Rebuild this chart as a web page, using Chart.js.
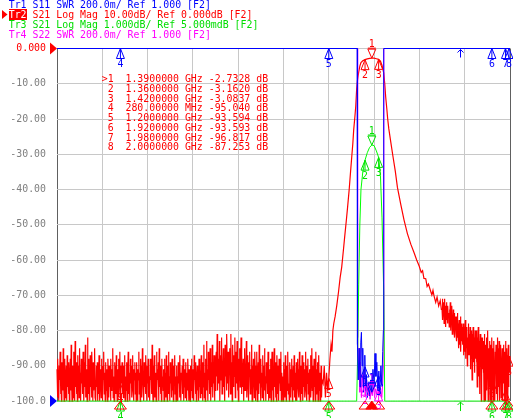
<!DOCTYPE html>
<html><head><meta charset="utf-8">
<script src="https://cdn.jsdelivr.net/npm/chart.js@4.4.0/dist/chart.umd.min.js"></script>
<style>
html,body{margin:0;padding:0;background:#fff;}
#wrap{position:relative;width:513px;height:418px;overflow:hidden;background:#fff;}
canvas{position:absolute;left:0;top:0;}
.t{position:absolute;font-family:'DejaVu Sans Mono',monospace;font-size:9.9px;line-height:10px;white-space:pre;}
</style></head><body>
<div id="wrap">
<canvas id="c" width="513" height="418"></canvas>
<div class="t" style="left:8.7px;top:0px;color:#0000ff">Tr1 S11 SWR 200.0m/ Ref 1.000 [F2]</div>
<div class="t" style="left:8.7px;top:10px;color:#ff0000"><span style="background:#ff0000;color:#fff">Tr2</span> S21 Log Mag 10.00dB/ Ref 0.000dB [F2]</div>
<div class="t" style="left:8.7px;top:20px;color:#00dd00">Tr3 S21 Log Mag 1.000dB/ Ref 5.000mdB [F2]</div>
<div class="t" style="left:8.7px;top:30px;color:#ff00ff">Tr4 S22 SWR 200.0m/ Ref 1.000 [F2]</div>
<div id="mtable" class="t" style="left:101.7px;top:74.3px;line-height:9.7px;color:#ff0000"></div>
</div>
<script>
// ---- markers ----
const markerFreq = [1.39, 1.36, 1.42, 0.28, 1.2, 1.92, 1.98, 2.0];
const markerS21  = [-2.7328, -3.1620, -3.0837, -95.040, -93.594, -93.593, -96.817, -87.253];
const arrowFreq = 1.78;

// ---- S21 (Tr2 / Tr3) noise floor, low side 0 .. 1.17 GHz ----
const noiseLoStart = 0.0, noiseLoStop = 1.17;
const redNoiseLo = [
-91,-99,-88,-96,-100,-90,-94,-86,-98,-92,-100,-89,-95,-97,-85,-93,-100,-91,-88,-99,-94,-90,-100,-87,-96,-92,-98,-89,-100,-93,
-88,-97,-84,-95,-100,-90,-93,-99,-86,-92,-100,-83,-96,-89,-98,-91,-100,-87,-94,-90,-99,-85,-97,-92,-100,-88,-95,-91,-98,-86,
-93,-100,-89,-96,-84,-99,-91,-95,-100,-82,-94,-88,-98,-92,-100,-87,-96,-90,-99,-86,-93,-100,-89,-97,-91,-85,-99,-94,-100,-90,
-96,-89,-100,-92,-98,-87,-95,-100,-91,-93,-99,-88,-96,-100,-90,-94,-86,-98,-92,-100,-89,-97,-91,-95,-100,-88,-93,-99,-90,-96,
-92,-100,-88,-97,-91,-95,-85,-99,-93,-100,-89,-96,-90,-98,-87,-94,-100,-91,-96,-88,-99,-93,-86,-97,-100,-90,-95,-89,-98,-92,
-99,-90,-95,-87,-100,-93,-97,-89,-94,-100,-91,-86,-98,-92,-96,-100,-88,-95,-90,-99,-93,-87,-97,-100,-91,-94,-89,-98,-92,-100,
-89,-96,-100,-91,-94,-86,-98,-92,-100,-88,-95,-90,-99,-85,-93,-97,-100,-89,-96,-91,-98,-87,-94,-100,-90,-95,-88,-99,-93,-96,
-100,-88,-94,-91,-98,-84,-96,-100,-90,-93,-87,-99,-92,-95,-100,-86,-97,-91,-94,-89,-100,-85,-96,-92,-98,-90,-100,-88,-95,-93,
-97,-91,-100,-88,-95,-92,-99,-87,-94,-100,-90,-96,-86,-98,-93,-100,-89,-95,-91,-99,-88,-97,-92,-100,-90,-94,-87,-98,-93,-100,
-90,-98,-93,-100,-89,-95,-91,-99,-87,-96,-100,-92,-94,-90,-98,-88,-100,-93,-96,-91,-99,-89,-95,-100,-92,-97,-88,-94,-100,-91,
-95,-100,-90,-97,-88,-93,-99,-91,-96,-100,-87,-94,-92,-98,-89,-100,-95,-90,-97,-93,-100,-88,-96,-91,-99,-94,-87,-98,-92,-100,
-89,-96,-84,-99,-92,-100,-88,-95,-83,-97,-91,-100,-86,-94,-90,-98,-85,-93,-100,-89,-96,-84,-99,-91,-95,-87,-100,-92,-97,-88,
-86,-93,-81,-97,-90,-88,-95,-83,-100,-91,-87,-94,-82,-98,-89,-92,-85,-96,-90,-100,-84,-93,-88,-97,-81,-91,-95,-86,-99,-89,
-92,-85,-98,-81,-94,-89,-100,-84,-91,-96,-87,-93,-82,-99,-90,-86,-95,-83,-97,-91,-100,-88,-94,-85,-96,-90,-82,-98,-87,-93,
-96,-88,-100,-91,-85,-97,-90,-94,-83,-99,-92,-87,-96,-100,-89,-93,-86,-98,-91,-95,-84,-100,-90,-97,-88,-94,-99,-86,-92,-100,
-90,-97,-86,-100,-93,-89,-98,-84,-95,-91,-100,-88,-96,-92,-99,-87,-94,-100,-90,-85,-97,-93,-100,-89,-95,-91,-98,-86,-100,-94,
-99,-91,-95,-88,-100,-93,-86,-97,-90,-100,-92,-85,-96,-89,-99,-94,-100,-87,-93,-98,-90,-100,-88,-95,-91,-97,-86,-100,-92,-96,
-93,-100,-89,-96,-91,-99,-87,-94,-100,-90,-97,-92,-86,-98,-95,-100,-89,-93,-99,-91,-96,-88,-100,-94,-90,-97,-87,-99,-92,-100,
-97,-89,-100,-93,-88,-96,-91,-99,-86,-95,-100,-90,-94,-98,-87,-92,-100,-89,-96,-91,-99,-93,-86,-97,-100,-90,-95,-88,-98,-92,
-100,-91,-95,-87,-99,-93,-85,-97,-90,-100,-94,-88,-96,-92,-100,-86,-98,-91,-95,-89,-100,-93,-87,-97,-92,-100,-96,-90,-99,-94
];
// ---- S21 filter response (skirts + passband) ----
const skirtFreq = [1.175,1.18,1.185,1.19,1.195,1.2,1.205,1.21,1.214,1.218,1.222,1.228,1.235,1.243,1.25,1.257,1.264,1.27,1.277,1.283,1.29,1.296,1.301,1.306,1.31,1.315,1.319,1.323,1.327,1.332,1.337,1.342,1.35,1.36,1.37,1.38,1.39,1.4,1.41,1.42,1.428,1.435,1.4425,1.447,1.451,1.456,1.46,1.465,1.4735,1.483,1.4934,1.503,1.5177,1.532,1.547,1.562,1.577,1.588,1.599,1.608,1.614,1.62,1.628,1.634,1.64,1.648,1.655,1.66,1.664,1.672,1.678,1.685,1.692,1.697];
const skirtDb   = [-95,-90,-99,-92,-97,-93.6,-88,-84,-86,-80,-78,-76,-73,-69,-65,-62,-57.5,-53.5,-49,-45,-40,-35,-31,-27,-23,-19.5,-16.4,-11.5,-8.8,-6.7,-5,-4,-3.5,-3.162,-2.95,-2.8,-2.733,-2.75,-2.9,-3.084,-3.6,-4.8,-6.9,-10,-13.6,-17,-20,-22.8,-26.5,-30.5,-34.7,-39.4,-44.2,-48.6,-52.5,-55.5,-58,-60,-61.7,-63.5,-63,-65.2,-65.3,-67.5,-66.8,-68.5,-69.9,-68.6,-70,-72,-70.5,-73,-71.5,-74];
// ---- S21 noise, high side 1.70 .. 2.0 GHz ----
const noiseHiStart = 1.70, noiseHiStop = 2.0;
const redNoiseHi = [
-74,-71,-77,-73,-76,-72,-78,-74,-71,-76,-73,-79,-75,-72,-77,-74,-78,-73,-76,-75,
-75,-79,-74,-78,-72,-77,-80,-75,-78,-73,-81,-76,-79,-74,-77,-80,-75,-82,-76,-78,
-77,-81,-76,-83,-79,-75,-82,-78,-85,-80,-77,-84,-79,-81,-76,-86,-80,-78,-83,-79,
-80,-84,-78,-87,-81,-79,-86,-82,-77,-88,-83,-80,-85,-79,-90,-82,-84,-78,-87,-81,
-82,-87,-79,-91,-84,-80,-88,-83,-94,-81,-86,-79,-89,-84,-82,-92,-85,-80,-88,-83,
-80,-89,-84,-96,-82,-87,-79,-93,-85,-83,-98,-86,-81,-90,-84,-100,-87,-82,-91,-85,
-83,-92,-86,-100,-81,-89,-95,-84,-100,-88,-82,-97,-87,-93,-80,-100,-90,-85,-96,-83,
-86,-100,-84,-94,-89,-100,-82,-91,-97,-85,-100,-88,-83,-95,-90,-100,-86,-92,-84,-98,
-87,-93,-82,-100,-89,-85,-96,-83,-91,-100,-86,-94,-84,-99,-88,-92,-85,-100,-90,-87,
-84,-95,-88,-100,-86,-91,-83,-97,-89,-100,-85,-93,-87,-100,-84,-96,-90,-88,-92,-87.25
];
// ---- S11 SWR (Tr1) ----
const s11Freq = [0,1.3255,1.3265,1.33,1.334,1.338,1.341,1.344,1.347,1.35,1.353,1.356,1.359,1.362,1.366,1.37,1.375,1.38,1.385,1.39,1.395,1.4,1.404,1.408,1.412,1.417,1.421,1.425,1.43,1.434,1.438,1.441,1.4425,2.0];
const s11Swr  = [9,9,1.32,1.12,1.3,1.08,1.33,1.39,1.2,1.3,1.05,1.18,1.26,1.06,1.15,1.02,1.08,1.03,1.12,1.05,1.18,1.1,1.27,1.14,1.22,1.06,1.17,1.04,1.2,1.09,1.28,1.4,9,9];
// ---- S22 SWR (Tr4) ----
const s22Freq = [0,1.326,1.3275,1.331,1.334,1.337,1.34,1.344,1.348,1.352,1.357,1.362,1.367,1.372,1.377,1.382,1.387,1.392,1.397,1.402,1.407,1.412,1.417,1.422,1.428,1.434,1.438,1.441,1.443,2.0];
const s22Swr  = [9,9,1.36,1.12,1.3,1.05,1.22,1.02,1.15,1.08,1.18,1.03,1.12,1.05,1.09,1.01,1.06,1.03,1.1,1.02,1.07,1.04,1.1,1.03,1.08,1.02,1.1,1.2,9,9];

// ---- build ----
const spread = (vals, a, b) => vals.map((v, i) => a + (b - a) * i / (vals.length - 1));
const s21Freq = [...spread(redNoiseLo, noiseLoStart, noiseLoStop), ...skirtFreq, ...spread(redNoiseHi, noiseHiStart, noiseHiStop)];
const s21Db = [...redNoiseLo, ...skirtDb, ...redNoiseHi];
const clamp = (arr, lo, hi) => arr.map(v => Math.min(hi, Math.max(lo, v)));
const xy = (fs, vs) => fs.map((f, i) => ({x: f, y: vs[i]}));
const DB_MIN = -100, DB_MAX = 0, G_MIN = -9.995, G_MAX = 0.005, SWR_MIN = 1, SWR_MAX = 3;
const interp = (fs, vs, f) => { for (let i = 1; i < fs.length; i++) { if (f <= fs[i]) { const t = (f - fs[i-1]) / (fs[i] - fs[i-1]); return vs[i-1] + t * (vs[i] - vs[i-1]); } } return vs[vs.length-1]; };

// marker table
document.getElementById('mtable').textContent = markerFreq.map((f, i) => {
  const lab = (i === 0 ? '>' : ' ') + (i + 1);
  const fs = f >= 1 ? f.toFixed(7) + ' GHz' : (f * 1000).toFixed(5) + ' MHz';
  return lab + '  ' + fs + ' ' + markerS21[i].toPrecision(5) + ' dB';
}).join('\n');

const FONT = '9.9px "DejaVu Sans Mono", monospace';
const markerPlugin = {
  id: 'markers',
  afterDatasetsDraw(chart) {
    const {ctx, chartArea: a} = chart;
    const sx = chart.scales.x, sy = chart.scales.y, sw = chart.scales.ySWR, sg = chart.scales.yG;
    ctx.save();
    ctx.lineWidth = 1; ctx.font = FONT; ctx.textAlign = 'center'; ctx.textBaseline = 'middle';
    const up = (px, py, col, lab) => {
      ctx.strokeStyle = col; ctx.fillStyle = col;
      ctx.beginPath(); ctx.moveTo(px, py); ctx.lineTo(px - 4, py + 10); ctx.lineTo(px + 4, py + 10); ctx.closePath();
      ctx.moveTo(px, py); ctx.lineTo(px, py + 10); ctx.stroke();
      ctx.fillText(lab, px, py + 16);
    };
    const down = (px, py, col, lab) => {
      ctx.strokeStyle = col; ctx.fillStyle = col;
      ctx.beginPath(); ctx.moveTo(px, py); ctx.lineTo(px - 4, py - 9); ctx.lineTo(px + 4, py - 9); ctx.closePath();
      ctx.moveTo(px - 4, py - 10); ctx.lineTo(px + 4, py - 10); ctx.stroke();
      ctx.fillText(lab, px, py - 14);
    };
    const cl = (v, lo, hi) => Math.min(hi, Math.max(lo, v));
    markerFreq.forEach((f, i) => {
      const px = Math.min(sx.getPixelForValue(f), a.right - 1);
      const lab = String(i + 1);
      if (i < 3) { const v = cl(interp(s22Freq, s22Swr, f), SWR_MIN, SWR_MAX); (i === 0 ? down : up)(px, sw.getPixelForValue(v), '#ff00ff', lab); }
      const vb = cl(interp(s11Freq, s11Swr, f), SWR_MIN, SWR_MAX);
      (i === 0 && vb < SWR_MAX ? down : up)(px, sw.getPixelForValue(vb), '#0000ff', lab);
      const vg = cl(markerS21[i], G_MIN, G_MAX);
      (i === 0 ? down : up)(px, sg.getPixelForValue(vg), '#00e000', lab);
      (i === 0 ? down : up)(px, sy.getPixelForValue(markerS21[i]), '#ff0000', lab);
      ctx.strokeStyle = '#ff0000'; ctx.fillStyle = '#ff0000';
      ctx.beginPath(); ctx.moveTo(px, a.bottom); ctx.lineTo(px - 6, a.bottom + 8); ctx.lineTo(px + 6, a.bottom + 8); ctx.closePath();
      if (i === 0) ctx.fill(); ctx.stroke();
    });
    const ax = Math.round(sx.getPixelForValue(arrowFreq)) + 0.5;
    ctx.strokeStyle = '#0000ff';
    ctx.beginPath(); ctx.moveTo(ax, a.top + 1); ctx.lineTo(ax, a.top + 9); ctx.moveTo(ax - 3, a.top + 4); ctx.lineTo(ax, a.top + 1); ctx.lineTo(ax + 3, a.top + 4); ctx.stroke();
    ctx.strokeStyle = '#00e000';
    ctx.beginPath(); ctx.moveTo(ax, a.bottom + 1); ctx.lineTo(ax, a.bottom + 10); ctx.moveTo(ax - 3, a.bottom + 4); ctx.lineTo(ax, a.bottom + 1); ctx.lineTo(ax + 3, a.bottom + 4); ctx.stroke();
    ctx.restore();
  },
  afterDraw(chart) {
    const {ctx, chartArea: a} = chart;
    ctx.save();
    ctx.fillStyle = '#ff0000';
    ctx.beginPath(); ctx.moveTo(a.left - 7, a.top - 6); ctx.lineTo(a.left - 7, a.top + 6); ctx.lineTo(a.left, a.top); ctx.closePath(); ctx.fill();
    ctx.fillStyle = '#0000ff';
    ctx.beginPath(); ctx.moveTo(a.left - 7, a.bottom - 6); ctx.lineTo(a.left - 7, a.bottom + 6); ctx.lineTo(a.left, a.bottom); ctx.closePath(); ctx.fill();
    ctx.fillStyle = '#ff0000';
    ctx.beginPath(); ctx.moveTo(2, 10); ctx.lineTo(2, 19); ctx.lineTo(7.5, 14.5); ctx.closePath(); ctx.fill();
    ctx.restore();
  }
};

const ln = (data, axis, color, order, w) => ({data, yAxisID: axis, borderColor: color, borderWidth: w || 1, pointRadius: 0, tension: 0, fill: false, order, clip: 2});
new Chart(document.getElementById('c'), {
  type: 'line',
  data: { datasets: [
    ln(xy(s11Freq, clamp(s11Swr, SWR_MIN, SWR_MAX)), 'ySWR', '#0000ff', 1),
    ln(xy(s21Freq, clamp(s21Db, G_MIN, G_MAX)), 'yG', '#00ff00', 2),
    ln(xy(s22Freq, clamp(s22Swr, SWR_MIN, SWR_MAX)), 'ySWR', '#ff00ff', 3),
    ln(xy(s21Freq, clamp(s21Db, DB_MIN, DB_MAX)), 'y', '#ff0000', 4, 1.2)
  ]},
  options: {
    responsive: false, animation: false, devicePixelRatio: 1,
    layout: { padding: { top: 48.5, bottom: 9.5, left: 0, right: 3 } },
    plugins: { legend: { display: false }, tooltip: { enabled: false } },
    scales: {
      x: { type: 'linear', min: 0, max: 2,
           ticks: { display: false, stepSize: 0.2 },
           grid: { drawTicks: false, color: c => (Math.abs(c.tick.value) < 1e-9 || Math.abs(c.tick.value - 2) < 1e-9) ? '#606060' : '#c8c8c8' },
           border: { display: false },
           afterFit(s) { s.height = 0; } },
      y: { min: DB_MIN, max: DB_MAX,
           ticks: { stepSize: 10, padding: 11, color: c => c.tick.value === 0 ? '#ff0000' : '#808080',
                    font: { family: 'DejaVu Sans Mono', size: 9.9 }, callback: v => Number(v).toPrecision(4) },
           grid: { drawTicks: false, color: '#c8c8c8' },
           border: { display: false },
           afterFit(s) { s.width = 57; } },
      ySWR: { display: false, min: SWR_MIN, max: SWR_MAX },
      yG: { display: false, min: G_MIN, max: G_MAX }
    }
  },
  plugins: [markerPlugin]
});
</script>
</body></html>
